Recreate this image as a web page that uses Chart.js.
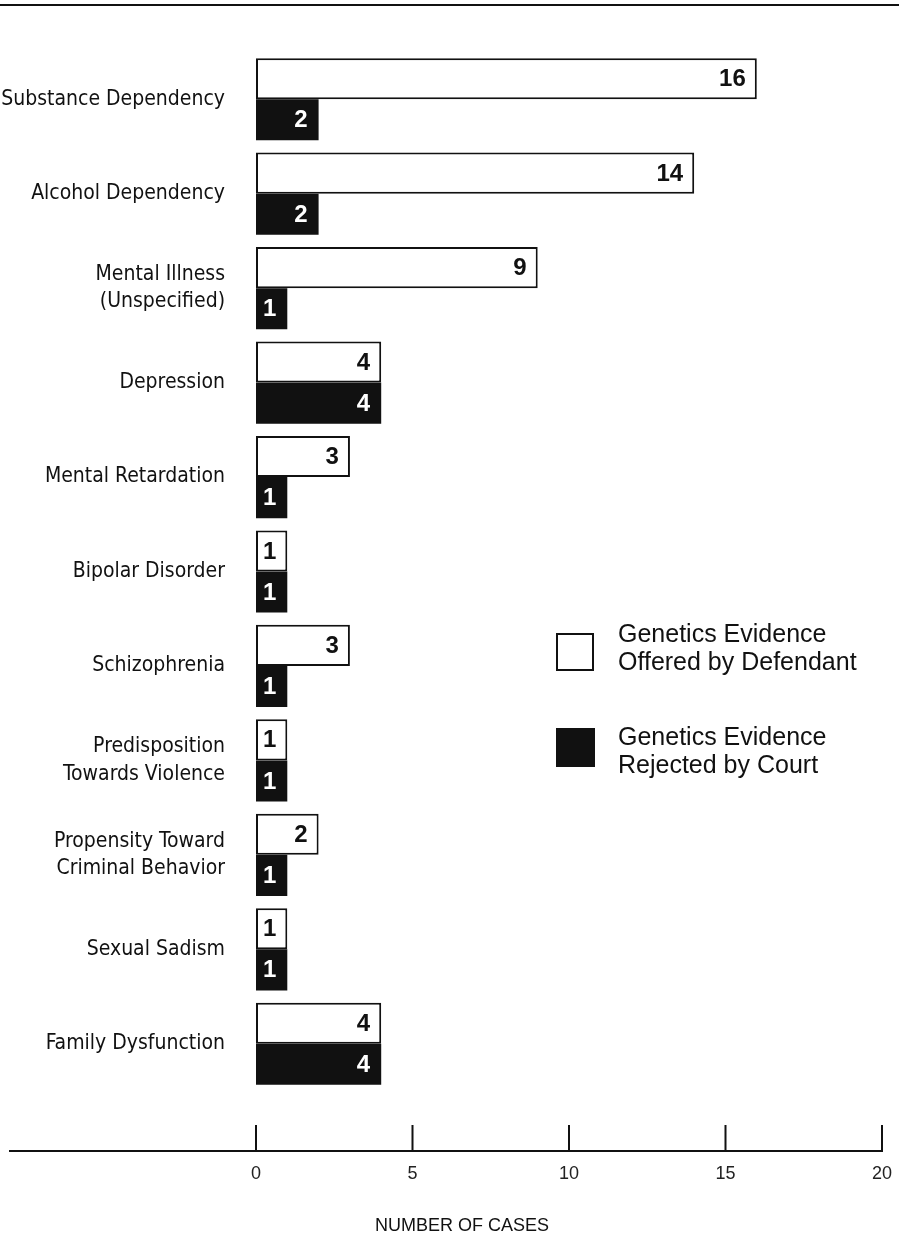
<!DOCTYPE html>
<html>
<head>
<meta charset="utf-8">
<script src="https://cdn.jsdelivr.net/npm/chart.js@4.4.0/dist/chart.umd.min.js"></script>
<style>
  html, body { margin: 0; padding: 0; background: #fff; }
  #wrap { position: relative; width: 899px; height: 1238px; }
</style>
</head>
<body>
<div id="wrap"><canvas id="casos"></canvas></div>
<script>
const categorias = [
  'Substance Dependency',
  'Alcohol Dependency',
  ['Mental Illness', '(Unspecified)'],
  'Depression',
  'Mental Retardation',
  'Bipolar Disorder',
  'Schizophrenia',
  ['Predisposition', 'Towards Violence'],
  ['Propensity Toward', 'Criminal Behavior'],
  'Sexual Sadism',
  'Family Dysfunction'
];
const ofrecidas = [16, 14, 9, 4, 3, 1, 3, 1, 2, 1, 4];
const rechazadas = [2, 2, 1, 4, 1, 1, 1, 1, 1, 1, 4];
const ticks_x = [0, 5, 10, 15, 20];
const leyenda = [
  ['Genetics Evidence', 'Offered by Defendant'],
  ['Genetics Evidence', 'Rejected by Court']
];

const NARROW = '"Liberation Sans Narrow", "DejaVu Sans Condensed", sans-serif';
const SANS = '"Liberation Sans", Arial, sans-serif';

// numeros dentro de cada barra
const etiquetas = {
  id: 'etiquetas',
  afterDatasetsDraw(chart) {
    const ctx = chart.ctx;
    ctx.save();
    ctx.font = 'bold 24px ' + SANS;
    ctx.textAlign = 'right';
    ctx.textBaseline = 'middle';
    chart.data.datasets.forEach((ds, i) => {
      chart.getDatasetMeta(i).data.forEach((bar, j) => {
        ctx.fillStyle = i === 0 ? '#111' : '#fff';
        ctx.fillText(ds.data[j], bar.x - 11, bar.y + 1);
      });
    });
    ctx.restore();
  }
};

// linea superior, eje inferior largo, titulo y leyenda
const adornos = {
  id: 'adornos',
  afterDraw(chart) {
    const ctx = chart.ctx;
    const x = chart.scales.x;
    const base = x.top + 60;
    ctx.save();
    ctx.strokeStyle = '#111';
    ctx.lineWidth = 2;
    ctx.beginPath();
    ctx.moveTo(0, 5);
    ctx.lineTo(chart.width, 5);
    ctx.moveTo(9, base);
    ctx.lineTo(x.getPixelForValue(ticks_x[ticks_x.length - 1]) + 1, base);
    ticks_x.forEach(v => {
      const px = x.getPixelForValue(v);
      ctx.moveTo(px, base + 1);
      ctx.lineTo(px, base - 26);
    });
    ctx.stroke();

    ctx.fillStyle = '#111';
    ctx.font = '18px ' + SANS;
    ctx.textAlign = 'center';
    ctx.textBaseline = 'middle';
    ctx.fillText('NUMBER OF CASES', 462, 1226);

    // leyenda
    const cajas = [{ x: 556, y: 633, w: 38, h: 38, t: 635 }, { x: 556, y: 728, w: 39, h: 39, t: 738 }];
    chart.data.datasets.forEach((ds, i) => {
      const c = cajas[i];
      ctx.fillStyle = ds.backgroundColor;
      ctx.fillRect(c.x, c.y, c.w, c.h);
      ctx.lineWidth = 2;
      ctx.strokeStyle = '#111';
      ctx.strokeRect(c.x + 1, c.y + 1, c.w - 2, c.h - 2);
      ctx.fillStyle = '#111';
      ctx.font = '25px ' + SANS;
      ctx.textAlign = 'left';
      leyenda[i].forEach((t, k) => {
        ctx.fillText(t, 618, c.t + k * 28);
      });
    });
    ctx.restore();
  }
};

new Chart(document.getElementById('casos'), {
  type: 'bar',
  data: {
    labels: categorias,
    datasets: [{
      label: 'Genetics Evidence Offered by Defendant',
      data: ofrecidas,
      backgroundColor: '#ffffff',
      borderColor: '#111111',
      borderWidth: 2,
      borderSkipped: false,
      categoryPercentage: 0.87,
      barPercentage: 1.0
    }, {
      label: 'Genetics Evidence Rejected by Court',
      data: rechazadas,
      backgroundColor: '#111111',
      borderColor: '#111111',
      borderWidth: 0,
      borderSkipped: false,
      categoryPercentage: 0.87,
      barPercentage: 1.0
    }]
  },
  options: {
    indexAxis: 'y',
    responsive: true,
    maintainAspectRatio: false,
    animation: false,
    layout: { padding: { top: 52, right: 17, left: 0, bottom: 0 } },
    plugins: {
      legend: { display: false },
      tooltip: { enabled: false }
    },
    scales: {
      x: {
        min: 0,
        max: 20,
        afterBuildTicks: s => { s.ticks = ticks_x.map(v => ({ value: v })); },
        afterFit: s => { s.height = 147; s.paddingLeft = 0; s.paddingRight = 0; },
        grid: { display: false, drawTicks: false },
        border: { display: false },
        ticks: {
          padding: 72,
          color: '#222',
          font: { family: SANS, size: 18 }
        }
      },
      y: {
        afterFit: s => { s.width = 256; },
        grid: { display: false, drawTicks: false },
        border: { display: false },
        ticks: {
          padding: 31,
          color: '#111',
          font: { family: NARROW, size: 21, lineHeight: 1.3 }
        }
      }
    }
  },
  plugins: [etiquetas, adornos]
});
</script>
</body>
</html>
